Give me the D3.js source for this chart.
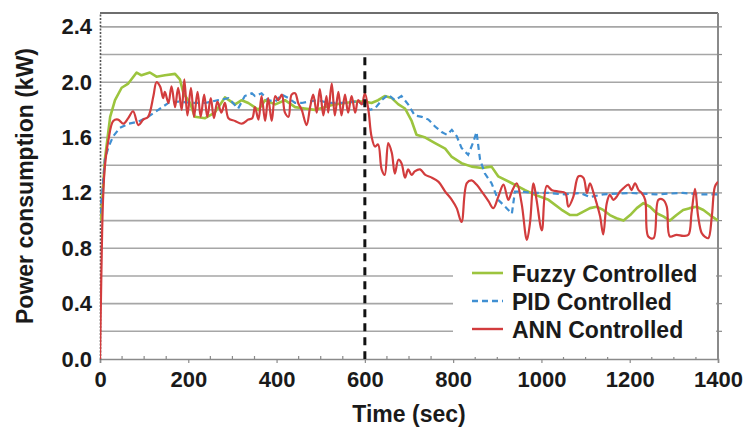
<!DOCTYPE html>
<html>
<head>
<meta charset="utf-8">
<script src="https://cdn.jsdelivr.net/npm/d3@7"></script>
<style>
  body { margin: 0; background: #fff; }
  svg { display: block; font-family: "Liberation Sans", Arial, sans-serif; font-weight: bold; }
</style>
</head>
<body>
<div id="chart"></div>
<script>
// time (sec), power (kW)
const fuzzy = [
  [0, 1.00], [4, 1.10], [11, 1.44], [23, 1.75], [34, 1.87], [49, 1.96], [64, 1.99], [83, 2.07],
  [94, 2.05], [113, 2.07], [128, 2.04], [147, 2.05], [170, 2.06], [181, 2.02], [189, 1.92], [204, 1.85],
  [215, 1.75], [238, 1.74], [260, 1.78], [283, 1.89], [306, 1.84], [321, 1.87], [336, 1.85], [359, 1.80],
  [374, 1.87], [397, 1.84], [419, 1.87], [442, 1.82], [464, 1.81], [487, 1.80], [510, 1.82], [532, 1.84],
  [555, 1.85], [578, 1.86], [600, 1.86], [615, 1.85], [630, 1.87], [645, 1.90], [661, 1.885], [676, 1.84],
  [691, 1.81], [706, 1.72], [717, 1.62], [737, 1.60], [759, 1.56], [782, 1.52], [797, 1.46], [819, 1.415],
  [842, 1.39], [865, 1.38], [887, 1.39], [902, 1.32], [933, 1.27], [963, 1.22], [986, 1.186], [1016, 1.15],
  [1045, 1.08], [1065, 1.04], [1080, 1.04], [1095, 1.065], [1110, 1.09], [1125, 1.10], [1140, 1.077],
  [1155, 1.04], [1170, 1.017], [1186, 1.00], [1201, 1.04], [1216, 1.09], [1231, 1.126], [1246, 1.10],
  [1261, 1.053], [1276, 1.03], [1291, 1.00], [1306, 1.04], [1321, 1.077], [1336, 1.09], [1351, 1.10],
  [1367, 1.077], [1382, 1.04], [1400, 1.00]
];

const pid = [
  [0, 1.05], [5, 1.20], [11, 1.44], [19, 1.53], [30, 1.61], [45, 1.67], [64, 1.70], [87, 1.715],
  [109, 1.75], [132, 1.80], [155, 1.85], [177, 1.86], [208, 1.85], [238, 1.85], [268, 1.87], [291, 1.885],
  [313, 1.81], [328, 1.90], [344, 1.92], [351, 1.90], [366, 1.92], [381, 1.87], [397, 1.86], [412, 1.91],
  [427, 1.885], [442, 1.85], [457, 1.85], [472, 1.86], [494, 1.87], [517, 1.85], [547, 1.85], [578, 1.86],
  [600, 1.84], [611, 1.80], [623, 1.81], [638, 1.87], [653, 1.91], [668, 1.87], [683, 1.90], [698, 1.84],
  [713, 1.76], [729, 1.75], [744, 1.73], [759, 1.68], [774, 1.64], [786, 1.62], [797, 1.656], [808, 1.61],
  [819, 1.525], [834, 1.475], [846, 1.57], [853, 1.64], [861, 1.44], [872, 1.34], [887, 1.27], [902, 1.15],
  [918, 1.10], [933, 1.05], [940, 1.21], [955, 1.21], [978, 1.20], [1016, 1.20], [1053, 1.19], [1088, 1.20],
  [1110, 1.17], [1140, 1.19], [1200, 1.20], [1260, 1.19], [1320, 1.20], [1360, 1.19], [1400, 1.19]
];

const ann = [
  [0, 0.00], [3, 0.60], [5, 0.95], [7.5, 1.20], [11, 1.39], [19, 1.58], [30, 1.72], [41, 1.73],
  [53, 1.70], [64, 1.74], [75, 1.79], [87, 1.69], [98, 1.73], [109, 1.75], [121, 1.90], [128, 2.00],
  [136, 1.97], [143, 1.885], [147, 1.93], [155, 1.85], [162, 1.97], [170, 1.82], [177, 1.96], [185, 1.80],
  [191, 2.02], [198, 1.76], [206, 1.96], [213, 1.75], [221, 1.93], [228, 1.75], [236, 1.91], [243, 1.75],
  [251, 1.885], [258, 1.74], [266, 1.86], [275, 1.78], [283, 1.85], [291, 1.74], [306, 1.72], [321, 1.70],
  [336, 1.73], [345, 1.74], [351, 1.82], [359, 1.73], [366, 1.90], [374, 1.72], [381, 1.885], [389, 1.72],
  [397, 1.90], [404, 1.87], [412, 1.91], [419, 1.78], [427, 1.75], [434, 1.91], [442, 1.92], [449, 1.85],
  [457, 1.80], [468, 1.69], [476, 1.82], [483, 1.91], [491, 1.78], [498, 1.95], [506, 1.76], [513, 1.90],
  [517, 1.78], [525, 1.99], [532, 1.76], [540, 1.93], [547, 1.76], [555, 1.91], [562, 1.78], [570, 1.90],
  [578, 1.78], [585, 1.87], [593, 1.84], [600, 1.92], [608, 1.80], [615, 1.61], [623, 1.535], [630, 1.55],
  [638, 1.37], [645, 1.33], [653, 1.56], [661, 1.49], [668, 1.34], [676, 1.44], [683, 1.415], [691, 1.31],
  [698, 1.37], [706, 1.33], [713, 1.355], [725, 1.37], [737, 1.33], [752, 1.31], [767, 1.28], [782, 1.21],
  [797, 1.15], [808, 1.09], [819, 0.99], [831, 1.27], [842, 1.29], [853, 1.26], [865, 1.21], [880, 1.14],
  [891, 1.09], [902, 1.17], [914, 1.26], [925, 1.15], [933, 1.21], [944, 1.27], [955, 1.126], [967, 0.86],
  [974, 0.98], [982, 1.27], [989, 1.15], [1001, 0.93], [1012, 1.25], [1024, 1.22], [1039, 1.21],
  [1054, 1.20], [1061, 1.10], [1072, 1.17], [1084, 1.32], [1095, 1.31], [1103, 1.20], [1110, 1.27],
  [1118, 1.20], [1125, 1.126], [1133, 1.03], [1140, 0.90], [1148, 1.126], [1155, 1.186], [1163, 1.15],
  [1170, 1.17], [1178, 1.21], [1186, 1.235], [1197, 1.26], [1204, 1.22], [1212, 1.27], [1220, 1.22],
  [1227, 1.20], [1235, 1.15], [1242, 0.885], [1254, 0.873], [1265, 1.15], [1276, 1.15], [1284, 1.10],
  [1291, 0.885], [1306, 0.897], [1321, 0.89], [1333, 0.897], [1340, 1.053], [1348, 1.23], [1355, 1.03],
  [1363, 0.91], [1370, 0.885], [1378, 0.873], [1386, 1.03], [1393, 1.245], [1400, 1.28]
];

const yTicks = [0, 0.4, 0.8, 1.2, 1.6, 2.0, 2.4];
const yGrid = [0.2, 0.4, 0.6, 0.8, 1.0, 1.2, 1.4, 1.6, 1.8, 2.0, 2.2, 2.4];
const xTicks = [0, 200, 400, 600, 800, 1000, 1200, 1400];
const switchTime = 600;
const legendNames = ['Fuzzy Controlled', 'PID Controlled', 'ANN Controlled'];

const W = 744, H = 429;
const x = d3.scaleLinear().domain([0, 1400]).range([100, 718]);
const y = d3.scaleLinear().domain([0, 2.5]).range([359, 13]);

const svg = d3.select('#chart').append('svg')
  .attr('width', W)
  .attr('height', H);

svg.append('defs').append('clipPath').attr('id', 'plot')
  .append('rect')
  .attr('x', x(0)).attr('y', y(2.5))
  .attr('width', x(1400) - x(0)).attr('height', y(0) - y(2.5));

// gridlines
svg.append('g')
  .selectAll('line')
  .data(yGrid)
  .join('line')
  .attr('x1', x(0)).attr('x2', x(1400))
  .attr('y1', d => y(d)).attr('y2', d => y(d))
  .attr('stroke', '#a6a6a6')
  .attr('stroke-width', 1.6);

// top + right frame
svg.append('line')
  .attr('x1', x(0)).attr('x2', x(1400))
  .attr('y1', y(2.5)).attr('y2', y(2.5))
  .attr('stroke', '#6e6e6e').attr('stroke-width', 2);
svg.append('line')
  .attr('x1', x(1400)).attr('x2', x(1400))
  .attr('y1', y(2.5)).attr('y2', y(0))
  .attr('stroke', '#8a8a8a').attr('stroke-width', 2);
svg.append('g')
  .selectAll('line')
  .data(yGrid)
  .join('line')
  .attr('x1', x(1400)).attr('x2', x(1400) + 4)
  .attr('y1', d => y(d)).attr('y2', d => y(d))
  .attr('stroke', '#8a8a8a').attr('stroke-width', 1.2);

// x axis
const xAxis = svg.append('g')
  .attr('transform', `translate(0,${y(0)})`)
  .call(d3.axisBottom(x).tickValues(xTicks).tickSize(4).tickPadding(8).tickFormat(d3.format('d')));
xAxis.select('.domain').attr('stroke', '#8a8a8a').attr('stroke-width', 1.6);
xAxis.selectAll('.tick line').attr('stroke', '#8a8a8a').attr('stroke-width', 1.2);
xAxis.selectAll('text')
  .attr('font-size', 22).attr('font-weight', 'bold').attr('fill', '#1a1a1a')
  .attr('font-family', '"Liberation Sans", Arial, sans-serif');
svg.append('g')
  .selectAll('line')
  .data(d3.range(50, 1400, 50).filter(d => d % 200 !== 0))
  .join('line')
  .attr('x1', d => x(d)).attr('x2', d => x(d))
  .attr('y1', y(0)).attr('y2', y(0) - 3)
  .attr('stroke', '#8a8a8a').attr('stroke-width', 1.2);

// y axis
const yAxis = svg.append('g')
  .attr('transform', `translate(${x(0)},0)`)
  .call(d3.axisLeft(y).tickValues(yTicks).tickSize(0).tickPadding(8).tickFormat(d3.format('.1f')));
yAxis.select('.domain').attr('stroke', '#555').attr('stroke-width', 1.6).attr('stroke-dasharray', '2,1.5');
yAxis.selectAll('text')
  .attr('font-size', 22).attr('font-weight', 'bold').attr('fill', '#1a1a1a')
  .attr('font-family', '"Liberation Sans", Arial, sans-serif');

// series
const plot = svg.append('g').attr('clip-path', 'url(#plot)');

const lineJag = d3.line().x(d => x(d[0])).y(d => y(d[1]));
const lineSmooth = d3.line().x(d => x(d[0])).y(d => y(d[1])).curve(d3.curveCatmullRom.alpha(0.5));

plot.append('path').datum(fuzzy)
  .attr('d', lineJag)
  .attr('fill', 'none').attr('stroke', '#9cc43e').attr('stroke-width', 2.6)
  .attr('stroke-linejoin', 'round');

plot.append('path').datum(pid)
  .attr('d', lineJag)
  .attr('fill', 'none').attr('stroke', '#3f8fd2').attr('stroke-width', 2.2)
  .attr('stroke-dasharray', '6,4');

plot.append('path').datum(ann)
  .attr('d', lineSmooth)
  .attr('fill', 'none').attr('stroke', '#d23c3d').attr('stroke-width', 2.2)
  .attr('stroke-linejoin', 'round');

// switch-over marker
svg.append('line')
  .attr('x1', x(switchTime)).attr('x2', x(switchTime))
  .attr('y1', y(2.18)).attr('y2', y(0))
  .attr('stroke', '#111').attr('stroke-width', 3)
  .attr('stroke-dasharray', '8,6');

// legend
const legend = svg.append('g');
legend.append('rect')
  .attr('x', 453).attr('y', 252)
  .attr('width', 263).attr('height', 105)
  .attr('fill', '#fff');

const legStyles = [
  { color: '#9cc43e', dash: null },
  { color: '#3f8fd2', dash: '6,4' },
  { color: '#d23c3d', dash: null }
];

const item = legend.selectAll('g.item')
  .data(legendNames)
  .join('g')
  .attr('class', 'item')
  .attr('transform', (d, i) => `translate(472,${273 + i * 28})`);

item.append('line')
  .attr('x1', 0).attr('x2', 31)
  .attr('stroke', (d, i) => legStyles[i].color)
  .attr('stroke-width', (d, i) => i === 0 ? 2.6 : 2.4)
  .attr('stroke-dasharray', (d, i) => legStyles[i].dash);

item.append('text')
  .attr('x', 40).attr('y', 8.5)
  .attr('font-size', 23).attr('fill', '#1a1a1a')
  .text(d => d);

// axis titles
svg.append('text')
  .attr('x', 409).attr('y', 422)
  .attr('text-anchor', 'middle')
  .attr('font-size', 23).attr('fill', '#1a1a1a')
  .text('Time (sec)');

svg.append('text')
  .attr('transform', `translate(33,${(y(0) + y(2.5)) / 2}) rotate(-90)`)
  .attr('text-anchor', 'middle')
  .attr('font-size', 23).attr('fill', '#1a1a1a')
  .text('Power consumption (kW)');
</script>
</body>
</html>
